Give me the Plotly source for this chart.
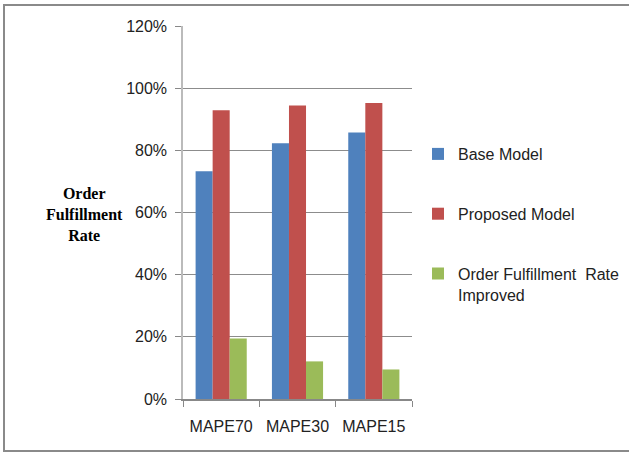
import plotly.graph_objects as go

categories = ["MAPE70", "MAPE30", "MAPE15"]
base_model = [0.733, 0.823, 0.857]
proposed_model = [0.929, 0.944, 0.952]
improved = [0.195, 0.121, 0.095]
series_names = ["Base Model", "Proposed Model", "Order Fulfillment  Rate<br>Improved"]
colors = ["#4F81BD", "#C0504D", "#9BBB59"]
y_ticks = [0, 0.2, 0.4, 0.6, 0.8, 1.0, 1.2]
y_tick_labels = ["0%", "20%", "40%", "60%", "80%", "100%", "120%"]

W, H = 629, 452
L, R, T, B = 183, 412, 26, 399  # plot area in px
pw, ph = R - L, B - T

def px_x(x):
    return (x - L) / pw

def px_y(y):
    return (B - y) / ph

fig = go.Figure()
for i, (name, vals) in enumerate(zip(series_names, [base_model, proposed_model, improved])):
    fig.add_trace(go.Bar(x=categories, y=vals, name=name, marker_color=colors[i],
                         marker_line_width=0, legendgroup=str(i)))

fig.update_layout(
    width=W, height=H,
    margin=dict(l=L, r=W - R, t=T, b=H - B, pad=0, autoexpand=False),
    paper_bgcolor="white", plot_bgcolor="white",
    barmode="group", bargap=0.33, bargroupgap=0,
    font=dict(family="Liberation Sans, Arial, sans-serif", size=16, color="#222222"),
    showlegend=True,
    legend=dict(x=px_x(418), y=px_y(137), xanchor="left", yanchor="top",
                tracegroupgap=36, valign="top",
                font=dict(size=16, color="#222222"), bgcolor="rgba(0,0,0,0)"),
    xaxis=dict(showline=True, linecolor="#888888", linewidth=1.5,
               ticks="outside", tickson="boundaries", ticklen=6, tickcolor="#888888",
               ticklabelstandoff=12, automargin=False,
               tickfont=dict(size=16), showgrid=False),
    yaxis=dict(range=[0, 1.2], tickvals=y_ticks, ticktext=y_tick_labels,
               showline=True, linecolor="#bbbbbb", linewidth=1.5,
               ticks="outside", ticklen=6, tickcolor="#888888",
               ticklabelstandoff=5, automargin=False,
               showgrid=True, gridcolor="#8c8c8c", gridwidth=1,
               zeroline=False, tickfont=dict(size=16)),
    annotations=[dict(text="<b>Order<br>Fulfillment<br>Rate</b>", xref="paper", yref="paper",
                      x=px_x(84), y=px_y(214), xanchor="center", yanchor="middle",
                      showarrow=False, align="center",
                      font=dict(family="Liberation Serif, Times New Roman, serif", size=16, color="black"))],
    shapes=[dict(type="rect", xref="paper", yref="paper",
                 x0=px_x(4), x1=px_x(640), y0=px_y(451), y1=px_y(5),
                 line=dict(color="#8a8a8a", width=2), layer="below")],
)

fig.write_html("out.html")
